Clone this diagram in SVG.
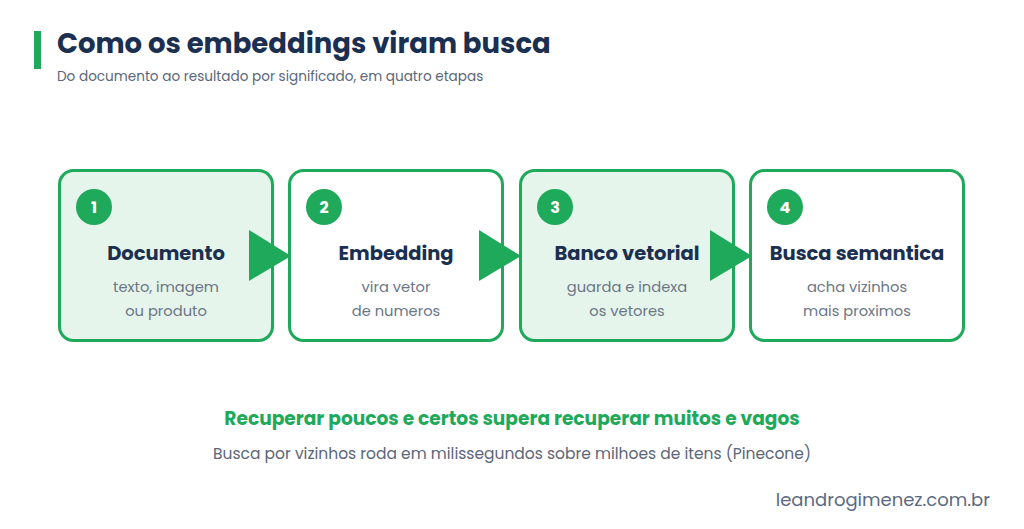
<svg xmlns="http://www.w3.org/2000/svg" width="1024" height="529" viewBox="0 0 1024 529">
<style>
text{font-family:Poppins,"Open Sans","Noto Sans",sans-serif}
.box{stroke:#1fa95a;stroke-width:3}
.fill{fill:#e6f5ec}
.white{fill:#ffffff}
.num{fill:#1fa95a}
.numt{fill:#fff;font-size:16px;font-weight:700;text-anchor:middle}
.ttl{fill:#1b2f50;font-size:19.5px;font-weight:700;text-anchor:middle}
.sub{fill:#6b7686;font-size:14.7px;text-anchor:middle}
.arrow{fill:#1fa95a}
</style>
<rect width="1024" height="529" fill="#ffffff"/>
<g id="header">
<rect x="34" y="31" width="7" height="38" fill="#1fa95a"/>
<text x="57" y="53" font-size="27.5" font-weight="700" fill="#1b2f50">Como os embeddings viram busca</text>
<text x="57" y="81" font-size="13.6" fill="#5b6678">Do documento ao resultado por significado, em quatro etapas</text>
</g>
<g id="node1">
<rect class="box fill" x="59.5" y="170.5" width="213" height="170" rx="14"/>
<circle class="num" cx="94" cy="207" r="18"/>
<text class="numt" x="94" y="213">1</text>
<text class="ttl" x="166" y="260">Documento</text>
<text class="sub" x="166" y="292">texto, imagem</text>
<text class="sub" x="166" y="316">ou produto</text>
</g>
<g id="node2">
<rect class="box white" x="289.5" y="170.5" width="213" height="170" rx="14"/>
<circle class="num" cx="324" cy="207" r="18"/>
<text class="numt" x="324" y="213">2</text>
<text class="ttl" x="396" y="260">Embedding</text>
<text class="sub" x="396" y="292">vira vetor</text>
<text class="sub" x="396" y="316">de numeros</text>
</g>
<g id="node3">
<rect class="box fill" x="520.5" y="170.5" width="213" height="170" rx="14"/>
<circle class="num" cx="555" cy="207" r="18"/>
<text class="numt" x="555" y="213">3</text>
<text class="ttl" x="627" y="260">Banco vetorial</text>
<text class="sub" x="627" y="292">guarda e indexa</text>
<text class="sub" x="627" y="316">os vetores</text>
</g>
<g id="node4">
<rect class="box white" x="750.5" y="170.5" width="213" height="170" rx="14"/>
<circle class="num" cx="785" cy="207" r="18"/>
<text class="numt" x="785" y="213">4</text>
<text class="ttl" x="857" y="260">Busca semantica</text>
<text class="sub" x="857" y="292">acha vizinhos</text>
<text class="sub" x="857" y="316">mais proximos</text>
</g>
<g id="connectors">
<polygon class="arrow" points="249,230 291,256 249,281"/>
<polygon class="arrow" points="479,230 521,256 479,281"/>
<polygon class="arrow" points="710,230 752,256 710,281"/>
</g>
<g id="footer">
<text x="512" y="425" font-size="18.6" font-weight="700" fill="#1fa95a" text-anchor="middle">Recuperar poucos e certos supera recuperar muitos e vagos</text>
<text x="512" y="459" font-size="15.5" fill="#5b6678" text-anchor="middle">Busca por vizinhos roda em milissegundos sobre milhoes de itens (Pinecone)</text>
<text x="990" y="506" font-size="18" fill="#5b6a80" text-anchor="end">leandrogimenez.com.br</text>
</g>
</svg>
